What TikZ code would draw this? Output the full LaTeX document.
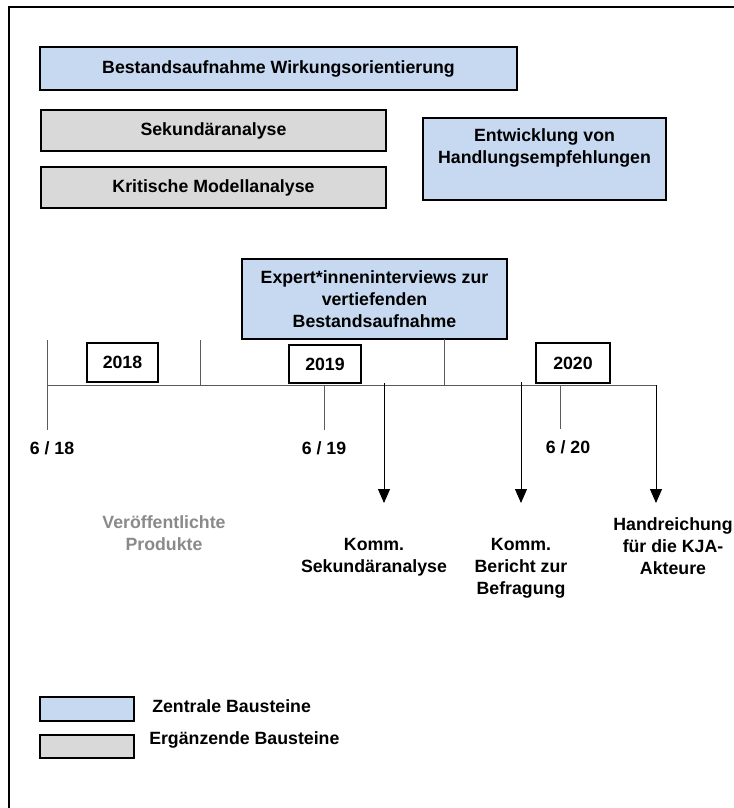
\documentclass[tikz,border=0pt]{standalone}
\usepackage{fontspec}
\setmainfont{Liberation Sans}
\usetikzlibrary{arrows.meta}
\definecolor{zblue}{HTML}{C6D9F1}
\definecolor{egray}{HTML}{D9D9D9}
\definecolor{tgray}{HTML}{8A8A8A}
\definecolor{lgray}{HTML}{5A5A5A}
\begin{document}
\begin{tikzpicture}[x=0.75pt,y=-0.75pt,
  font=\bfseries\fontsize{13.3}{16.5}\selectfont,
  box/.style={draw=black, line width=1.1pt, inner sep=0pt, outer sep=0pt, align=center},
  bluebox/.style={box, fill=zblue},
  graybox/.style={box, fill=egray},
  yearbox/.style={box, fill=white},
  tl/.style={draw=lgray, line width=0.7pt},
  arr/.style={draw=black, line width=0.7pt, -{Triangle[length=10.5pt,width=9pt]}},
  lbl/.style={align=center, inner sep=0pt}]
\useasboundingbox (0,0) rectangle (734,808);
\fill[white] (0,0) rectangle (734,808);
% frame
\draw[line width=1.2pt] (9,808) -- (9,7) -- (734,7);
% boxes
\node[bluebox, minimum width=357.75pt, minimum height=32.25pt] (bw) at (278.5,68.5) {Bestandsaufnahme Wirkungsorientierung};
\node[graybox, minimum width=258.75pt, minimum height=30.75pt] (sek) at (213.5,130.5) {Sekundäranalyse};
\node[graybox, minimum width=258.75pt, minimum height=30.75pt] (krit) at (213.5,187.5) {Kritische Modellanalyse};
\node[bluebox, minimum width=182.25pt, minimum height=61.5pt] (entw) at (544.5,159) {};
\node[lbl] (entwt) at (544.5,148) {Entwicklung von\\Handlungsempfehlungen};
\node[bluebox, minimum width=198.75pt, minimum height=60pt] (exp) at (374.5,299) {Expert*inneninterviews zur\\vertiefenden\\Bestandsaufnahme};
% year boxes
\node[yearbox, minimum width=53.25pt, minimum height=29.25pt] (y18) at (122.5,362.5) {2018};
\node[yearbox, minimum width=54pt, minimum height=28.5pt] (y19) at (325,364) {2019};
\node[yearbox, minimum width=55.5pt, minimum height=30pt] (y20) at (573,363) {2020};
% timeline coordinates
\coordinate (t0) at (47,385);
\coordinate (tend) at (656,385);
\coordinate (u1) at (47,340);
\coordinate (u2) at (200,340);
\coordinate (u3a) at (444,339);
\coordinate (u3b) at (444,385);
\coordinate (u2b) at (200,385);
\coordinate (d1) at (47,430);
\coordinate (m19) at (324,385);
\coordinate (d19) at (324,430);
\coordinate (m20) at (560,385);
\coordinate (d20) at (560,429);
\coordinate (a1s) at (384,383);
\coordinate (a2s) at (521,382);
\draw[tl] (t0) -- (tend);
\draw[tl] (u1) -- (d1);
\draw[tl] (u2) -- (u2b);
\draw[tl] (u3a) -- (u3b);
\draw[tl] (m19) -- (d19);
\draw[tl] (m20) -- (d20);
% date labels
\node[lbl] (l18) at (52,448) {6 / 18};
\node[lbl] (l19) at (324,448) {6 / 19};
\node[lbl] (l20) at (568,447) {6 / 20};
% products
\node[lbl, text=tgray] (vp) at (164,533) {Veröffentlichte\\Produkte};
\coordinate (a1e) at (384,503);
\coordinate (a2e) at (521,503);
\coordinate (a3e) at (656,503);
\draw[arr] (a1s) -- (a1e);
\draw[arr] (a2s) -- (a2e);
\draw[arr] (tend) -- (a3e);
\node[lbl] (p1) at (374,557) {Komm.\\Sekundäranalyse};
\node[lbl] (p2) at (521,568) {Komm.\\Bericht zur\\Befragung};
\node[lbl] (p3) at (673,546) {Handreichung\\für die KJA-\\Akteure};
% legend
\node[bluebox, minimum width=70.5pt, minimum height=18pt] (lgb) at (87,709) {};
\node[graybox, minimum width=70.5pt, minimum height=17.25pt] (lgg) at (87,746.5) {};
\node[lbl, anchor=west] (lgbt) at (152,706) {Zentrale Bausteine};
\node[lbl, anchor=west] (lggt) at (149,740) {Ergänzende Bausteine};
\end{tikzpicture}
\end{document}
